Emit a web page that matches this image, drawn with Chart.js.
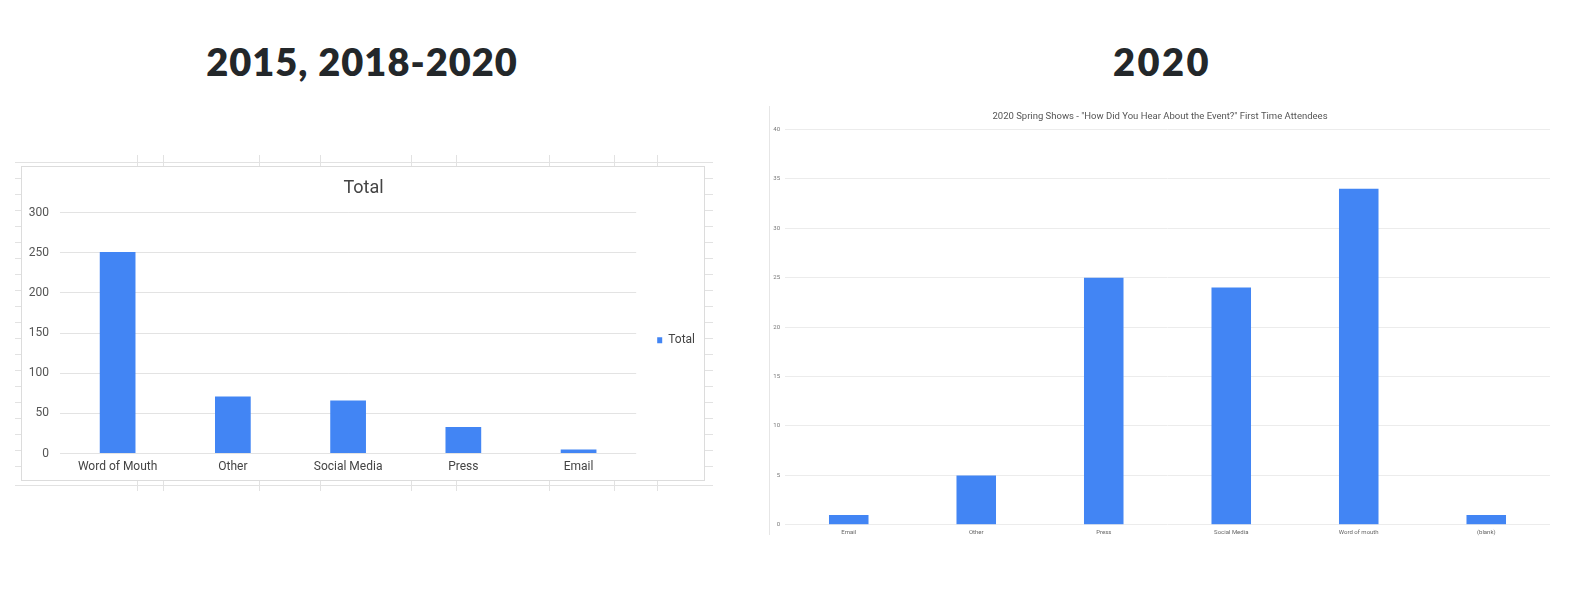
<!DOCTYPE html>
<html>
<head>
<meta charset="utf-8">
<script src="https://cdn.jsdelivr.net/npm/chart.js@4"></script>
<style>
  html, body { margin: 0; padding: 0; background: #fff; }
  body { width: 1580px; height: 611px; position: relative; overflow: hidden; font-family: "Lato", sans-serif; }
  .bigTitle { position: absolute; top: 38px; font-weight: 800; font-size: 38px; color: #23272a; text-align: center; letter-spacing: 1px; }
  .sheet { position: absolute; background: #e2e2e2; }
  #boxLeft { position: absolute; left: 21px; top: 166px; width: 682px; height: 313px; background: #fff; border: 1px solid #dcdcdc; }
  #axisRight { position: absolute; left: 769px; top: 106px; width: 1px; height: 429px; background: #e6e6e6; }
  canvas { position: absolute; }
</style>
</head>
<body>
<div class="bigTitle" style="left:162px;width:400px;">2015, 2018-2020</div>
<div class="bigTitle" style="left:962px;width:400px;letter-spacing:2.5px;">2020</div>

<div id="sheetLines"></div>
<div id="boxLeft"></div>
<div id="axisRight"></div>

<canvas id="chartTotal" width="683" height="320" style="left:22px;top:167px;"></canvas>
<canvas id="chart2020" width="800" height="446" style="left:770px;top:100px;"></canvas>

<script>
// 左图：2015, 2018-2020 合计
const totalLabels = ['Word of Mouth', 'Other', 'Social Media', 'Press', 'Email'];
const totalValues = [251, 71, 66, 33, 5];
const totalTicks = [0, 50, 100, 150, 200, 250, 300];

// 右图：2020 春季展
const springLabels = ['Email', 'Other', 'Press', 'Social Media', 'Word of mouth', '(blank)'];
const springValues = [1, 5, 25, 24, 34, 1];
const springTicks = [0, 5, 10, 15, 20, 25, 30, 35, 40];

const BLUE = '#4285f4';

// 表格背景的网格线（纯装饰）
const sheetCols = [137, 163, 259, 320, 411, 456, 549, 614, 657];
const sheet = document.getElementById('sheetLines');
function addLine(x, y, w, h) {
  const d = document.createElement('div');
  d.className = 'sheet';
  d.style.left = x + 'px'; d.style.top = y + 'px';
  d.style.width = w + 'px'; d.style.height = h + 'px';
  sheet.appendChild(d);
}
addLine(15, 162, 698, 1);
addLine(15, 485, 698, 1);
sheetCols.forEach(x => { addLine(x, 155, 1, 11); addLine(x, 480, 1, 11); });
for (let y = 178; y < 480; y += 16) { addLine(15, y, 6, 1); addLine(704, y, 9, 1); }

Chart.defaults.font.family = 'Roboto, "Liberation Sans", sans-serif';
Chart.defaults.animation = false;

new Chart(document.getElementById('chartTotal'), {
  type: 'bar',
  data: {
    labels: totalLabels,
    datasets: [{
      label: 'Total',
      data: totalValues,
      backgroundColor: BLUE,
      barPercentage: 0.31,
      categoryPercentage: 1
    }]
  },
  options: {
    responsive: false,
    layout: { padding: { left: 0, right: 0, top: 0, bottom: 7 } },
    plugins: {
      title: {
        display: true,
        text: 'Total',
        color: '#444',
        font: { size: 18, weight: 'normal' },
        padding: { top: 11, bottom: 13 }
      },
      legend: {
        position: 'right',
        fullSize: false,
        title: { display: true, text: '', padding: 0 },
        labels: {
          boxWidth: 5,
          boxHeight: 6,
          padding: 21,
          color: '#444',
          font: { size: 12 }
        }
      },
      tooltip: { enabled: false }
    },
    scales: {
      x: {
        grid: { display: false, drawTicks: false },
        border: { display: false },
        ticks: { color: '#444', font: { size: 12 }, padding: 6, maxRotation: 0 }
      },
      y: {
        min: 0,
        max: 300,
        afterBuildTicks: s => { s.ticks = totalTicks.map(v => ({ value: v })); },
        afterFit: s => { s.width = 38; },
        grid: { color: '#e3e3e3', drawTicks: false },
        border: { display: false },
        ticks: { color: '#555', font: { size: 12 }, padding: 11 }
      }
    }
  }
});

new Chart(document.getElementById('chart2020'), {
  type: 'bar',
  data: {
    labels: springLabels,
    datasets: [{
      label: 'Count',
      data: springValues,
      backgroundColor: BLUE,
      barPercentage: 0.31,
      categoryPercentage: 1
    }]
  },
  options: {
    responsive: false,
    layout: { padding: { left: 0, right: 20, top: 0, bottom: 6 } },
    plugins: {
      title: {
        display: true,
        text: '2020 Spring Shows - "How Did You Hear About the Event?" First Time Attendees',
        color: '#555',
        font: { size: 9.5, weight: 'normal' },
        padding: { top: 10.5, bottom: 7.5 }
      },
      legend: { display: false },
      tooltip: { enabled: false }
    },
    scales: {
      x: {
        grid: { display: false, drawTicks: false },
        border: { display: false },
        ticks: { color: '#666', font: { size: 6 }, padding: 4, maxRotation: 0 }
      },
      y: {
        min: 0,
        max: 40,
        afterBuildTicks: s => { s.ticks = springTicks.map(v => ({ value: v })); },
        afterFit: s => { s.width = 15; },
        grid: { color: '#ececec', drawTicks: false },
        border: { display: false },
        ticks: { color: '#777', font: { size: 6 }, padding: 5 }
      }
    }
  }
});
</script>
</body>
</html>
